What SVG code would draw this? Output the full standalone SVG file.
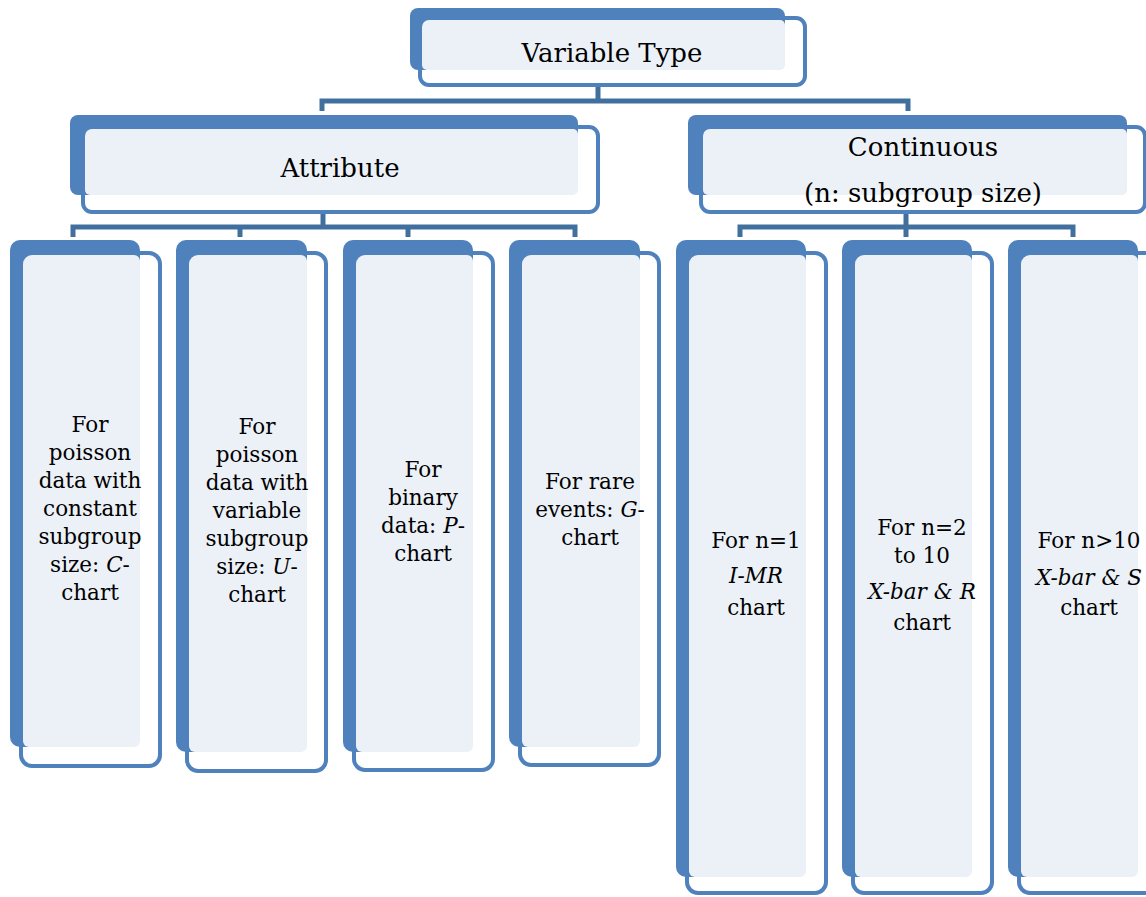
<svg xmlns="http://www.w3.org/2000/svg" width="1146" height="897" viewBox="0 0 1146 897">
<style>
.back{fill:#4F81BD}
.light{fill:#ECF1F8}
.outline{fill:none;stroke:#4F81BD;stroke-width:4}
.conn{fill:none;stroke:#41709F;stroke-width:5}
text{font-family:"DejaVu Serif","Liberation Serif",serif;fill:#000;text-anchor:middle}
.big{font-size:26px}
.leaf{font-size:21.5px}
.it{font-style:italic}
</style>
<rect width="1146" height="897" fill="#fff"/>
<g id="connectors">
<path class="conn" d="M598,87V101M322,111V101H908V111"/>
<path class="conn" d="M323,212V227M73,237V227H575V237M240,227V237M408,227V237"/>
<path class="conn" d="M906,212V237M740,237V227H1073V237"/>
</g>
<g id="variable-type">
<rect class="back" x="410" y="8" width="375" height="62" rx="8"/>
<rect class="light" x="422" y="20" width="363" height="50" rx="5"/>
<rect class="outline" x="420" y="18" width="385" height="67" rx="9"/>
<text class="big" x="612" y="62">Variable Type</text>
</g>
<g id="attribute">
<rect class="back" x="70" y="115" width="508" height="80" rx="8"/>
<rect class="light" x="85" y="129" width="493" height="66" rx="5"/>
<rect class="outline" x="83" y="127" width="515" height="85" rx="9"/>
<text class="big" x="340" y="177">Attribute</text>
</g>
<g id="continuous">
<rect class="back" x="688" y="115" width="439" height="80" rx="8"/>
<rect class="light" x="703" y="129" width="424" height="66" rx="5"/>
<rect class="outline" x="701" y="127" width="444" height="85" rx="9"/>
<text class="big" x="923" y="156">Continuous</text>
<text class="big" x="923" y="202">(n: subgroup size)</text>
</g>
<g id="c-chart">
<rect class="back" x="10" y="240" width="130" height="507" rx="10"/>
<rect class="light" x="23" y="255" width="117" height="492" rx="6"/>
<rect class="outline" x="21" y="253" width="139" height="513" rx="11"/>
<text class="leaf" x="90" y="432">For</text>
<text class="leaf" x="90" y="460">poisson</text>
<text class="leaf" x="90" y="488">data with</text>
<text class="leaf" x="90" y="516">constant</text>
<text class="leaf" x="90" y="544">subgroup</text>
<text class="leaf" x="90" y="572">size: <tspan class="it">C</tspan>-</text>
<text class="leaf" x="90" y="600">chart</text>
</g>
<g id="u-chart">
<rect class="back" x="176" y="240" width="131" height="512" rx="10"/>
<rect class="light" x="189" y="255" width="118" height="497" rx="6"/>
<rect class="outline" x="187" y="253" width="139" height="518" rx="11"/>
<text class="leaf" x="257" y="434">For</text>
<text class="leaf" x="257" y="462">poisson</text>
<text class="leaf" x="257" y="490">data with</text>
<text class="leaf" x="257" y="518">variable</text>
<text class="leaf" x="257" y="546">subgroup</text>
<text class="leaf" x="257" y="574">size: <tspan class="it">U</tspan>-</text>
<text class="leaf" x="257" y="602">chart</text>
</g>
<g id="p-chart">
<rect class="back" x="343" y="240" width="130" height="512" rx="10"/>
<rect class="light" x="356" y="255" width="117" height="497" rx="6"/>
<rect class="outline" x="354" y="253" width="139" height="517" rx="11"/>
<text class="leaf" x="423" y="477">For</text>
<text class="leaf" x="423" y="505">binary</text>
<text class="leaf" x="423" y="533">data: <tspan class="it">P</tspan>-</text>
<text class="leaf" x="423" y="561">chart</text>
</g>
<g id="g-chart">
<rect class="back" x="509" y="240" width="131" height="507" rx="10"/>
<rect class="light" x="522" y="255" width="118" height="492" rx="6"/>
<rect class="outline" x="520" y="253" width="139" height="512" rx="11"/>
<text class="leaf" x="590" y="489">For rare</text>
<text class="leaf" x="590" y="517">events: <tspan class="it">G</tspan>-</text>
<text class="leaf" x="590" y="545">chart</text>
</g>
<g id="imr-chart">
<rect class="back" x="676" y="240" width="130" height="637" rx="10"/>
<rect class="light" x="689" y="255" width="117" height="622" rx="6"/>
<rect class="outline" x="687" y="253" width="139" height="640" rx="11"/>
<text class="leaf" x="756" y="548">For n=1</text>
<text class="leaf it" x="756" y="583">I-MR</text>
<text class="leaf" x="756" y="615">chart</text>
</g>
<g id="xbar-r-chart">
<rect class="back" x="842" y="240" width="130" height="637" rx="10"/>
<rect class="light" x="855" y="255" width="117" height="622" rx="6"/>
<rect class="outline" x="853" y="253" width="139" height="640" rx="11"/>
<text class="leaf" x="922" y="535">For n=2</text>
<text class="leaf" x="922" y="563">to 10</text>
<text class="leaf it" x="922" y="599">X-bar &amp; R</text>
<text class="leaf" x="922" y="630">chart</text>
</g>
<g id="xbar-s-chart">
<rect class="back" x="1008" y="240" width="130" height="637" rx="10"/>
<rect class="light" x="1021" y="255" width="117" height="622" rx="6"/>
<rect class="outline" x="1019" y="253" width="139" height="640" rx="11"/>
<text class="leaf" x="1089" y="548">For n&gt;10</text>
<text class="leaf it" x="1089" y="585">X-bar &amp; S</text>
<text class="leaf" x="1089" y="615">chart</text>
</g>
</svg>
